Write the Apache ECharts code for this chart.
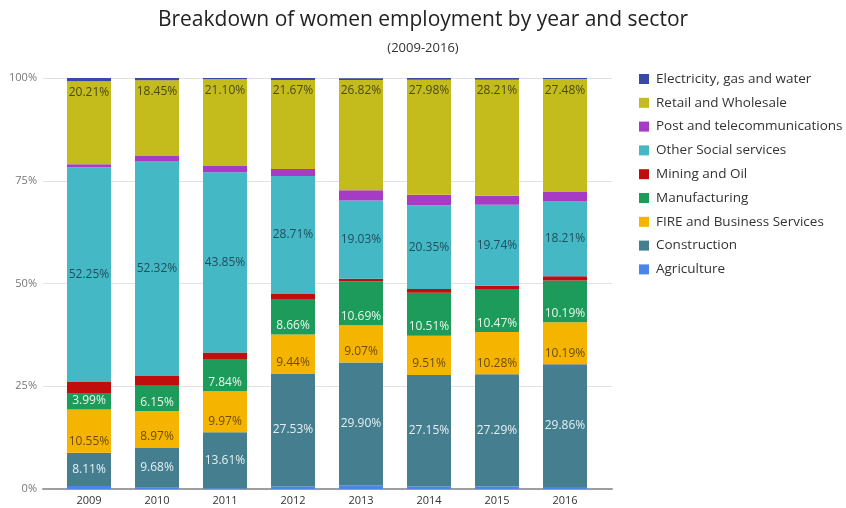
<!DOCTYPE html>
<html>
<head>
<meta charset="utf-8">
<script src="https://cdn.jsdelivr.net/npm/echarts@6/dist/echarts.min.js"></script>
<style>
  html, body { margin: 0; padding: 0; background: #fff; }
  #chart { width: 846px; height: 508px; }
</style>
</head>
<body>
<div id="chart"></div>
<script>
// Share of women employment (%) per sector, 2009-2016
const years = ['2009', '2010', '2011', '2012', '2013', '2014', '2015', '2016'];
const agriculture   = [0.7, 0.3, 0.2, 0.6, 0.9, 0.6, 0.6, 0.5];
const construction  = [8.11, 9.68, 13.61, 27.53, 29.90, 27.15, 27.29, 29.86];
const fire          = [10.55, 8.97, 9.97, 9.44, 9.07, 9.51, 10.28, 10.19];
const manufacturing = [3.99, 6.15, 7.84, 8.66, 10.69, 10.51, 10.47, 10.19];
const mining        = [2.7, 2.4, 1.6, 1.2, 0.6, 0.9, 0.8, 1.0];
const otherSocial   = [52.25, 52.32, 43.85, 28.71, 19.03, 20.35, 19.74, 18.21];
const post          = [0.7, 1.2, 1.5, 1.7, 2.5, 2.6, 2.2, 2.3];
const retail        = [20.21, 18.45, 21.10, 21.67, 26.82, 27.98, 28.21, 27.48];
const electricity   = [0.8, 0.5, 0.3, 0.5, 0.4, 0.4, 0.4, 0.3];
const yTicks = [0, 25, 50, 75, 100];

const FONT = 'Open Sans, DejaVu Sans, sans-serif';

// stacking order bottom -> top
const sectors = [
  { name: 'Agriculture', data: agriculture, color: '#4a86e8' },
  { name: 'Construction', data: construction, color: '#457e8e', label: { color: '#e3f0f3', position: 'inside' } },
  { name: 'FIRE and Business Services', data: fire, color: '#f5b400', label: { color: '#6b4c00', position: 'insideBottom', distance: 5 } },
  { name: 'Manufacturing', data: manufacturing, color: '#1c9b5b', label: { color: '#e8f6ec', position: 'insideBottom', distance: 3 } },
  { name: 'Mining and Oil', data: mining, color: '#c00d0d' },
  { name: 'Other Social services', data: otherSocial, color: '#45b8c6', label: { color: '#1f4e5c', position: 'inside' } },
  { name: 'Post and telecommunications', data: post, color: '#a63bc6' },
  { name: 'Retail and Wholesale', data: retail, color: '#c4bc1c', label: { color: '#4b4a14', position: 'insideTop', distance: 5 } },
  { name: 'Electricity, gas and water', data: electricity, color: '#3949ab' }
];

const chart = echarts.init(document.getElementById('chart'), null, { renderer: 'canvas' });

const series = sectors.map(s => ({
  name: s.name,
  type: 'bar',
  stack: 'total',
  xAxisIndex: 1,
  yAxisIndex: 1,
  barWidth: 44,
  data: s.data,
  itemStyle: { color: s.color },
  label: s.label ? {
    show: true,
    position: s.label.position,
    distance: s.label.distance || 0,
    color: s.label.color,
    fontSize: 12,
    fontFamily: FONT,
    formatter: p => p.value.toFixed(2) + '%'
  } : { show: false },
  emphasis: { disabled: true }
}));

chart.setOption({
  animation: false,
  backgroundColor: '#ffffff',
  color: sectors.map(s => s.color),
  title: [
    {
      text: 'Breakdown of women employment by year and sector',
      left: 'center',
      top: 5,
      textStyle: { fontSize: 21, fontWeight: 'normal', color: '#222', fontFamily: FONT }
    },
    {
      text: '(2009-2016)',
      left: 'center',
      top: 37,
      textStyle: { fontSize: 13, fontWeight: 'normal', color: '#333', fontFamily: FONT }
    }
  ],
  legend: {
    orient: 'vertical',
    left: 634,
    top: 67,
    icon: 'rect',
    itemWidth: 10,
    itemHeight: 10,
    itemGap: 9.8,
    data: sectors.map(s => s.name).reverse(),
    textStyle: { fontSize: 13.5, lineHeight: 14, color: '#333', fontFamily: FONT, padding: [0, 0, 0, 2] },
    selectedMode: false
  },
  grid: [
    // gridlines and percent ticks
    { left: 43, right: 234, top: 78, bottom: 19 },
    // bars
    { left: 55, right: 247, top: 78, bottom: 19 }
  ],
  xAxis: [
    {
      type: 'category',
      gridIndex: 0,
      data: years,
      axisLine: { show: true, lineStyle: { color: '#9e9e9e', width: 2 } },
      axisTick: { show: false },
      axisLabel: { show: false }
    },
    {
      type: 'category',
      gridIndex: 1,
      data: years,
      axisLine: { show: false },
      axisTick: { show: false },
      axisLabel: { fontSize: 11, color: '#333', fontFamily: FONT, margin: 6 }
    }
  ],
  yAxis: [
    {
      type: 'value',
      gridIndex: 0,
      min: yTicks[0],
      max: yTicks[yTicks.length - 1],
      interval: 25,
      axisLine: { show: false },
      axisTick: { show: false },
      splitLine: { lineStyle: { color: '#e2e2e2', width: 1 } },
      axisLabel: { fontSize: 11, color: '#777', fontFamily: FONT, margin: 6, formatter: v => v + '%' }
    },
    {
      type: 'value',
      gridIndex: 1,
      min: 0,
      max: 100,
      interval: 25,
      show: false,
      splitLine: { show: false }
    }
  ],
  series: series
});
</script>
</body>
</html>
